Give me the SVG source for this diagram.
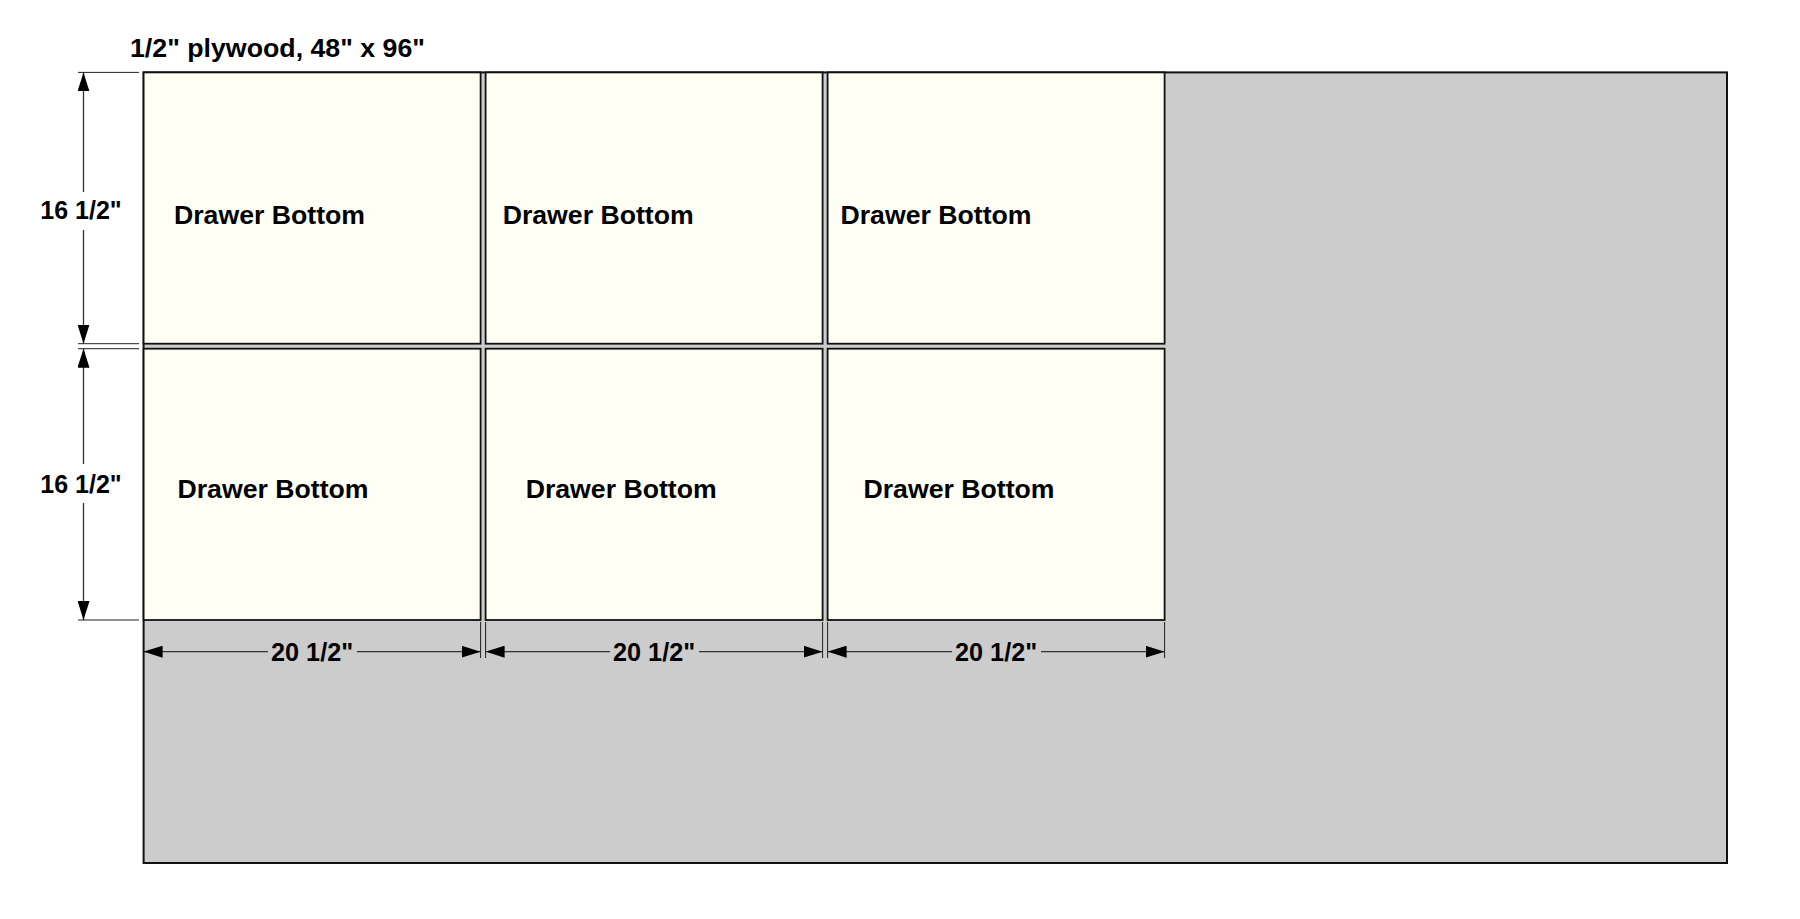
<svg xmlns="http://www.w3.org/2000/svg" width="1800" height="919" viewBox="0 0 1800 919">
<style>
.lbl{font-family:"Liberation Sans",Arial,sans-serif;font-weight:bold;font-size:25.5px;fill:#000}
.piece{fill:#FFFFF5;stroke:#111;stroke-width:1.8}
.dim{stroke:#333;stroke-width:1.3;fill:none}
.ext{stroke:#222;stroke-width:1;fill:none}
</style>
<defs>
<marker id="ah" viewBox="0 0 19 12" refX="19" refY="6" markerWidth="19" markerHeight="12" markerUnits="userSpaceOnUse" orient="auto">
<path d="M0,0 L19,6 L0,12 z" fill="#000"/>
</marker>
</defs>
<rect width="1800" height="919" fill="#fff"/>
<g id="sheet">
<rect x="143.6" y="72.4" width="1583.4" height="790.6" fill="#CCCCCC" stroke="#111" stroke-width="2"/>
<text class="lbl" x="130" y="57.3" textLength="295" lengthAdjust="spacingAndGlyphs">1/2" plywood, 48" x 96"</text>
</g>
<g id="p1"><rect class="piece" x="143.6" y="72.4" width="337" height="271.3"/><text class="lbl" x="174" y="224.3" textLength="191" lengthAdjust="spacingAndGlyphs">Drawer Bottom</text></g>
<g id="p2"><rect class="piece" x="485.6" y="72.4" width="337" height="271.3"/><text class="lbl" x="502.7" y="224.3" textLength="191" lengthAdjust="spacingAndGlyphs">Drawer Bottom</text></g>
<g id="p3"><rect class="piece" x="827.6" y="72.4" width="337" height="271.3"/><text class="lbl" x="840.5" y="224.3" textLength="191" lengthAdjust="spacingAndGlyphs">Drawer Bottom</text></g>
<g id="p4"><rect class="piece" x="143.6" y="348.7" width="337" height="271.3"/><text class="lbl" x="177.5" y="497.7" textLength="191" lengthAdjust="spacingAndGlyphs">Drawer Bottom</text></g>
<g id="p5"><rect class="piece" x="485.6" y="348.7" width="337" height="271.3"/><text class="lbl" x="525.7" y="497.7" textLength="191" lengthAdjust="spacingAndGlyphs">Drawer Bottom</text></g>
<g id="p6"><rect class="piece" x="827.6" y="348.7" width="337" height="271.3"/><text class="lbl" x="863.5" y="497.7" textLength="191" lengthAdjust="spacingAndGlyphs">Drawer Bottom</text></g>
<g id="connectors">
<line class="ext" x1="78" y1="72.4" x2="139" y2="72.4"/>
<line class="ext" x1="78" y1="343.7" x2="139" y2="343.7"/>
<line class="ext" x1="78" y1="348.7" x2="139" y2="348.7"/>
<line class="ext" x1="78" y1="620" x2="139" y2="620" stroke="#777"/>
<line class="dim" x1="83.5" y1="192" x2="83.5" y2="72.4" marker-end="url(#ah)"/>
<line class="dim" x1="83.5" y1="230" x2="83.5" y2="343.7" marker-end="url(#ah)"/>
<line class="dim" x1="83.5" y1="464" x2="83.5" y2="348.7" marker-end="url(#ah)"/>
<line class="dim" x1="83.5" y1="503" x2="83.5" y2="620" marker-end="url(#ah)"/>
<text class="lbl" x="81" y="219" text-anchor="middle" textLength="81.5" lengthAdjust="spacingAndGlyphs">16 1/2"</text>
<text class="lbl" x="81" y="492.7" text-anchor="middle" textLength="81.5" lengthAdjust="spacingAndGlyphs">16 1/2"</text>
<line class="ext" x1="480.6" y1="622" x2="480.6" y2="658"/>
<line class="ext" x1="485.6" y1="622" x2="485.6" y2="658"/>
<line class="ext" x1="822.6" y1="622" x2="822.6" y2="658"/>
<line class="ext" x1="827.6" y1="622" x2="827.6" y2="658"/>
<line class="ext" x1="1164.6" y1="622" x2="1164.6" y2="658"/>
<line class="dim" x1="268" y1="651.7" x2="143.6" y2="651.7" marker-end="url(#ah)"/>
<line class="dim" x1="357" y1="651.7" x2="480.6" y2="651.7" marker-end="url(#ah)"/>
<line class="dim" x1="610" y1="651.7" x2="485.6" y2="651.7" marker-end="url(#ah)"/>
<line class="dim" x1="699" y1="651.7" x2="822.6" y2="651.7" marker-end="url(#ah)"/>
<line class="dim" x1="952" y1="651.7" x2="827.6" y2="651.7" marker-end="url(#ah)"/>
<line class="dim" x1="1041" y1="651.7" x2="1164.6" y2="651.7" marker-end="url(#ah)"/>
<text class="lbl" x="312.1" y="661" text-anchor="middle" textLength="82" lengthAdjust="spacingAndGlyphs">20 1/2"</text>
<text class="lbl" x="654.1" y="661" text-anchor="middle" textLength="82" lengthAdjust="spacingAndGlyphs">20 1/2"</text>
<text class="lbl" x="996.1" y="661" text-anchor="middle" textLength="82" lengthAdjust="spacingAndGlyphs">20 1/2"</text>
</g>
</svg>
